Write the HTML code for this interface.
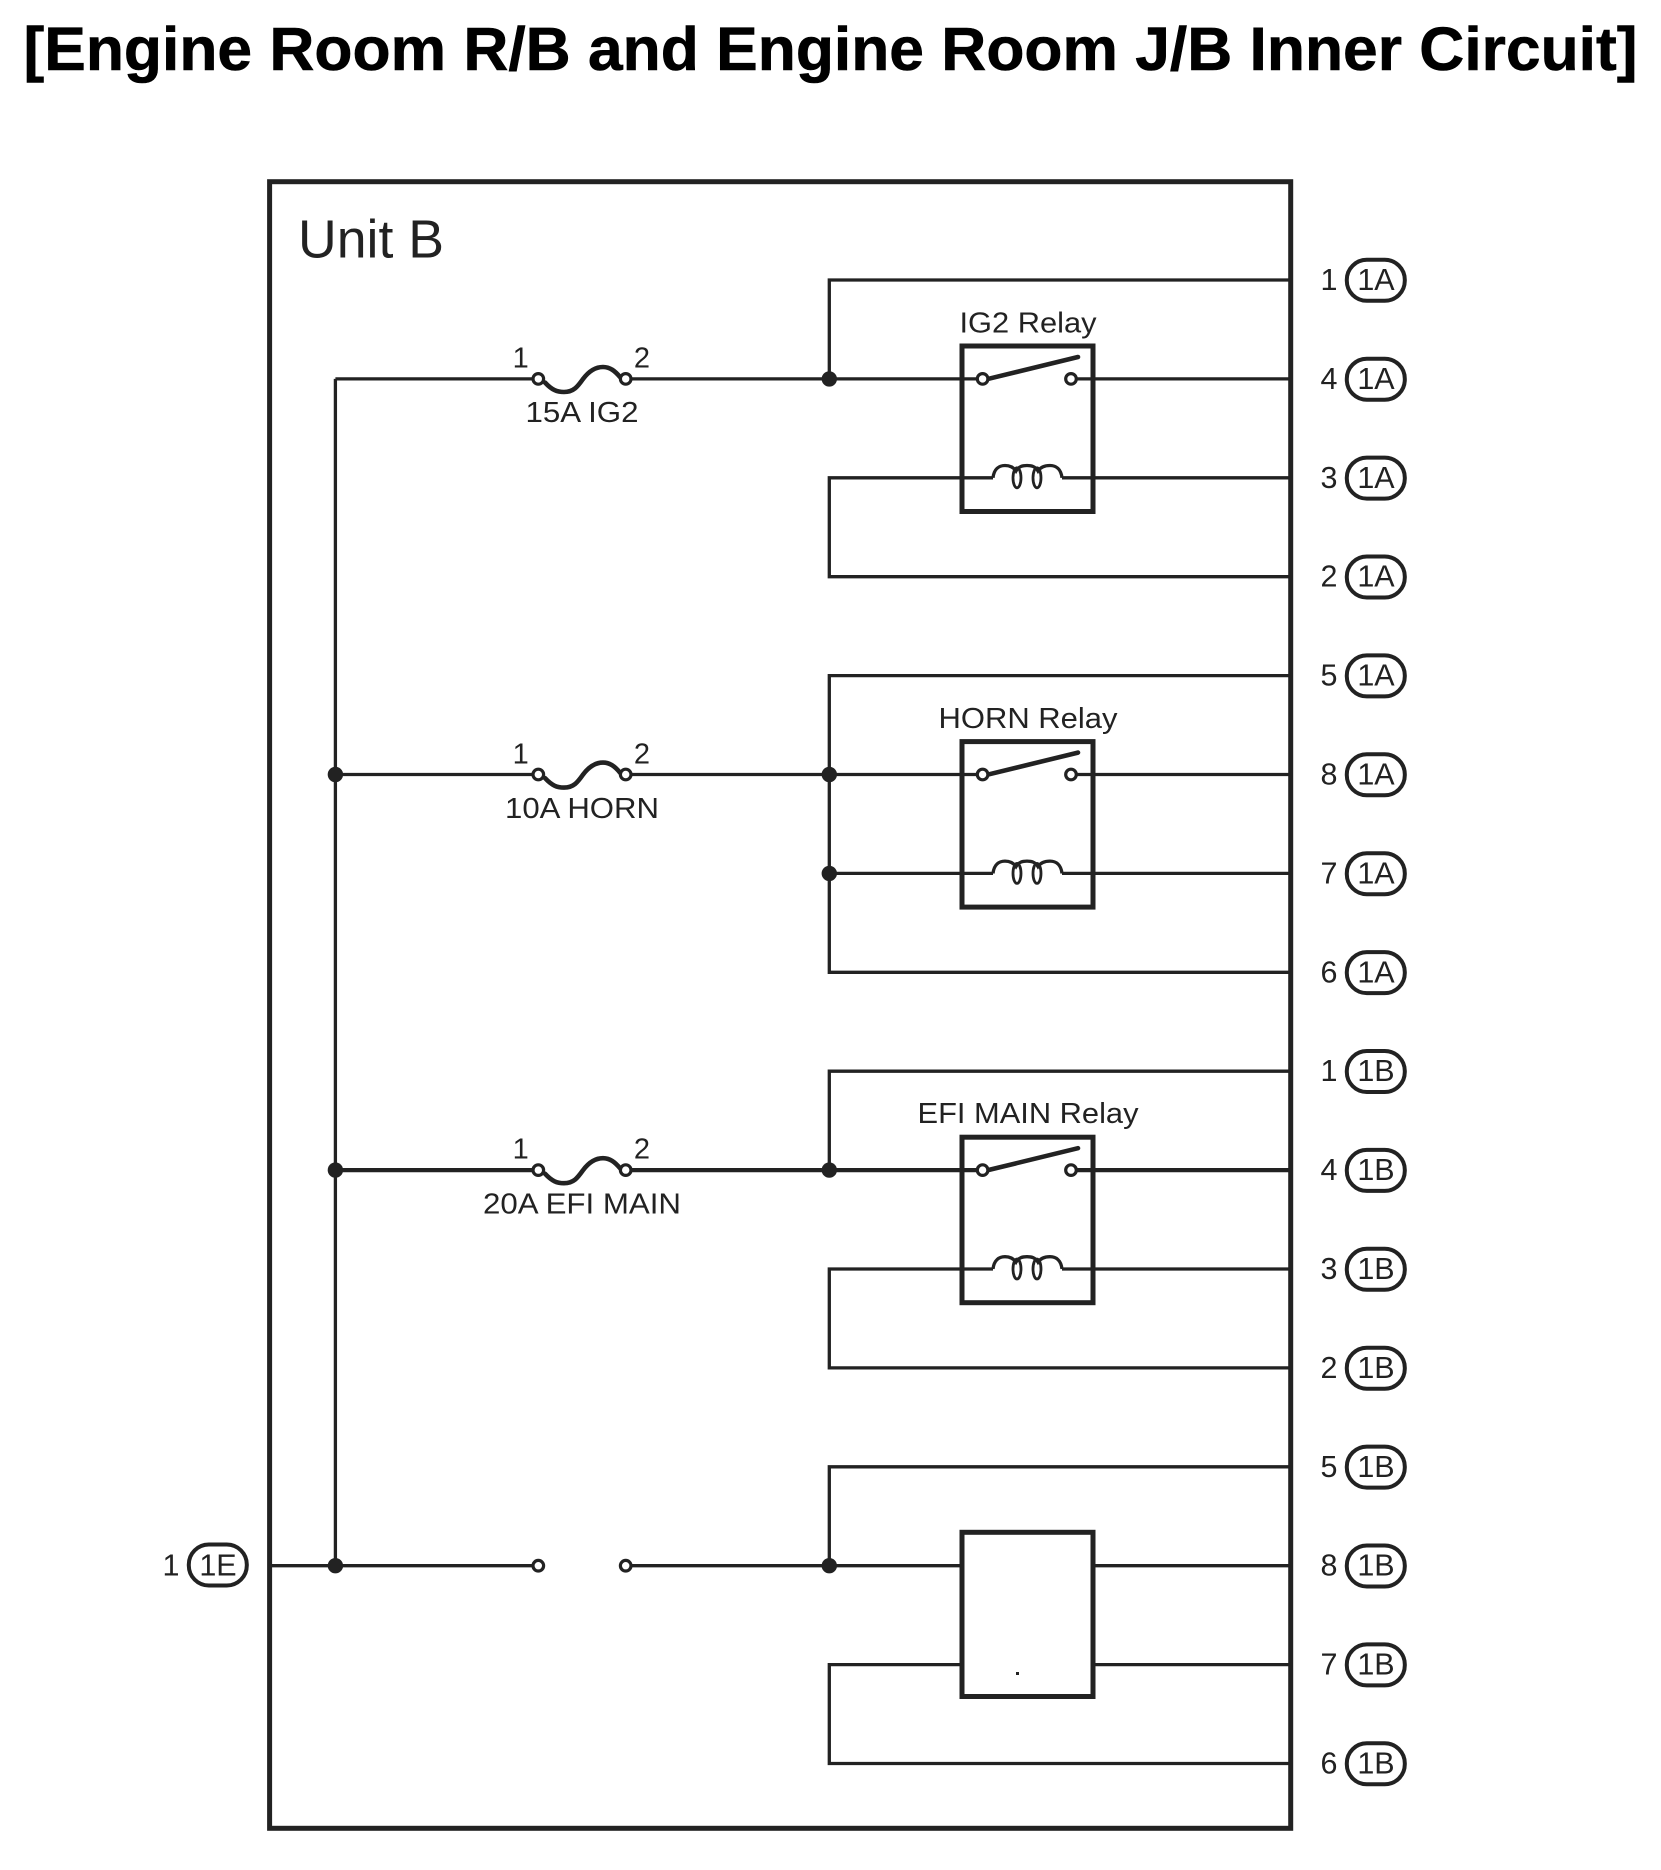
<!DOCTYPE html>
<html>
<head>
<meta charset="utf-8">
<style>
html,body{margin:0;padding:0;background:#fff;width:1661px;height:1870px;overflow:hidden}
svg{display:block}
text{font-family:"Liberation Sans",sans-serif;fill:#222}
.w{fill:none;stroke:#222;stroke-width:3.3}
.h{fill:none;stroke:#222;stroke-width:4.2}
.b{fill:none;stroke:#222;stroke-width:5}
.f{fill:none;stroke:#222;stroke-width:4.6;stroke-linecap:round}
.t{fill:#fff;stroke:#222;stroke-width:3.2}
.j{fill:#222}
.p{fill:#fff;stroke:#222;stroke-width:4}
.n{font-size:30.5px;text-anchor:middle}
.l{font-size:29px;text-anchor:middle}
.q{font-size:29px;text-anchor:middle}
</style>
</head>
<body>
<svg width="1661" height="1870" viewBox="0 0 1661 1870" xmlns="http://www.w3.org/2000/svg">
<text x="23.5" y="70" font-size="61" font-weight="700" textLength="1614" lengthAdjust="spacingAndGlyphs" style="fill:#000;stroke:#000;stroke-width:.6">[Engine Room R/B and Engine Room J/B Inner Circuit]</text>

<rect class="b" x="269.6" y="181.7" width="1021.1" height="1646.6"/>
<text x="298" y="257.7" font-size="54" textLength="146" lengthAdjust="spacingAndGlyphs">Unit B</text>

<!-- bus -->
<path class="w" d="M335.4 378.9V1565.7"/>

<!-- IG2 -->
<path class="w" d="M1290 280H829.3V378.9"/>
<path class="w" d="M335.4 378.9H538M626 378.9H982.6M1071 378.9H1290"/>
<path class="w" d="M993 477.8H829.3V576.7H1290M1062 477.8H1290"/>
<circle class="j" cx="829.3" cy="378.9" r="7.7"/>
<rect class="b" x="962" y="346" width="131" height="165.5"/>
<path class="f" d="M545 382.5C552 390 557 392 564 392C574 392 578 386 583 379C589 371 596 367 603 367C610 367 615 371 620 377"/>
<circle class="t" cx="538.3" cy="378.9" r="5.3"/>
<circle class="t" cx="625.7" cy="378.9" r="5.3"/>
<path class="h" d="M989 378.7L1078 357" style="stroke-linecap:round;stroke-width:4.6"/>
<circle class="t" cx="982.6" cy="378.9" r="5.3"/>
<circle class="t" cx="1071" cy="378.9" r="5.3"/>
<path class="w" d="M993 477.8C994 469 999 465.5 1005 465.5C1011 465.5 1014 468 1016 471C1019 466 1023 465.5 1027 465.5C1031 465.5 1035 466 1038 471C1040 468 1044 465.5 1050 465.5C1056 465.5 1061 469 1062 477.8"/>
<ellipse class="w" cx="1017" cy="477.8" rx="4" ry="10" style="stroke-width:2.8"/>
<ellipse class="w" cx="1037" cy="477.8" rx="4" ry="10" style="stroke-width:2.8"/>
<text class="l" x="1028" y="332.5" textLength="137" lengthAdjust="spacingAndGlyphs">IG2 Relay</text>
<text class="q" x="520.7" y="367.5">1</text>
<text class="q" x="642" y="367.5">2</text>
<text class="l" x="582" y="422" textLength="113" lengthAdjust="spacingAndGlyphs">15A IG2</text>

<!-- HORN -->
<path class="w" d="M1290 675.6H829.3V972.3H1290"/>
<path class="w" d="M335.4 774.5H538M626 774.5H982.6M1071 774.5H1290"/>
<path class="w" d="M829.3 873.4H993M1062 873.4H1290"/>
<circle class="j" cx="335.4" cy="774.5" r="7.7"/>
<circle class="j" cx="829.3" cy="774.5" r="7.7"/>
<circle class="j" cx="829.3" cy="873.4" r="7.7"/>
<rect class="b" x="962" y="741.6" width="131" height="165.5"/>
<path class="f" d="M545 778.1C552 785.6 557 787.6 564 787.6C574 787.6 578 781.6 583 774.6C589 766.6 596 762.6 603 762.6C610 762.6 615 766.6 620 772.6"/>
<circle class="t" cx="538.3" cy="774.5" r="5.3"/>
<circle class="t" cx="625.7" cy="774.5" r="5.3"/>
<path class="h" d="M989 774.3L1078 752.6" style="stroke-linecap:round;stroke-width:4.6"/>
<circle class="t" cx="982.6" cy="774.5" r="5.3"/>
<circle class="t" cx="1071" cy="774.5" r="5.3"/>
<path class="w" d="M993 873.4C994 864.6 999 861.1 1005 861.1C1011 861.1 1014 863.6 1016 866.6C1019 861.6 1023 861.1 1027 861.1C1031 861.1 1035 861.6 1038 866.6C1040 863.6 1044 861.1 1050 861.1C1056 861.1 1061 864.6 1062 873.4"/>
<ellipse class="w" cx="1017" cy="873.4" rx="4" ry="10" style="stroke-width:2.8"/>
<ellipse class="w" cx="1037" cy="873.4" rx="4" ry="10" style="stroke-width:2.8"/>
<text class="l" x="1028" y="728" textLength="179" lengthAdjust="spacingAndGlyphs">HORN Relay</text>
<text class="q" x="520.7" y="763.5">1</text>
<text class="q" x="642" y="763.5">2</text>
<text class="l" x="582" y="818" textLength="154" lengthAdjust="spacingAndGlyphs">10A HORN</text>

<!-- EFI MAIN -->
<path class="w" d="M1290 1071.2H829.3V1170.1"/>
<path class="h" d="M335.4 1170.1H538M626 1170.1H982.6M1071 1170.1H1290"/>
<path class="w" d="M993 1269H829.3V1367.9H1290M1062 1269H1290"/>
<circle class="j" cx="335.4" cy="1170.1" r="7.7"/>
<circle class="j" cx="829.3" cy="1170.1" r="7.7"/>
<rect class="b" x="962" y="1137.2" width="131" height="165.5"/>
<path class="f" d="M545 1173.7C552 1181.2 557 1183.2 564 1183.2C574 1183.2 578 1177.2 583 1170.2C589 1162.2 596 1158.2 603 1158.2C610 1158.2 615 1162.2 620 1168.2"/>
<circle class="t" cx="538.3" cy="1170.1" r="5.3"/>
<circle class="t" cx="625.7" cy="1170.1" r="5.3"/>
<path class="h" d="M989 1169.9L1078 1148.2" style="stroke-linecap:round;stroke-width:4.6"/>
<circle class="t" cx="982.6" cy="1170.1" r="5.3"/>
<circle class="t" cx="1071" cy="1170.1" r="5.3"/>
<path class="w" d="M993 1269C994 1260.2 999 1256.7 1005 1256.7C1011 1256.7 1014 1259.2 1016 1262.2C1019 1257.2 1023 1256.7 1027 1256.7C1031 1256.7 1035 1257.2 1038 1262.2C1040 1259.2 1044 1256.7 1050 1256.7C1056 1256.7 1061 1260.2 1062 1269"/>
<ellipse class="w" cx="1017" cy="1269" rx="4" ry="10" style="stroke-width:2.8"/>
<ellipse class="w" cx="1037" cy="1269" rx="4" ry="10" style="stroke-width:2.8"/>
<text class="l" x="1028" y="1123" textLength="221" lengthAdjust="spacingAndGlyphs">EFI MAIN Relay</text>
<text class="q" x="520.7" y="1158.6">1</text>
<text class="q" x="642" y="1158.6">2</text>
<text class="l" x="582" y="1213.6" textLength="198" lengthAdjust="spacingAndGlyphs">20A EFI MAIN</text>

<!-- bottom -->
<path class="w" d="M1290 1466.8H829.3V1565.7"/>
<path class="w" d="M269.6 1565.7H538M626 1565.7H962.5M1092 1565.7H1290"/>
<path class="w" d="M962.5 1664.6H829.3V1763.5H1290M1092 1664.6H1290"/>
<circle class="j" cx="335.4" cy="1565.7" r="7.7"/>
<circle class="j" cx="829.3" cy="1565.7" r="7.7"/>
<rect class="b" x="962" y="1532.3" width="131" height="164.2"/>
<rect class="j" x="1016" y="1672" width="3" height="3"/>
<circle class="t" cx="538.3" cy="1565.7" r="5.3"/>
<circle class="t" cx="625.7" cy="1565.7" r="5.3"/>

<!-- connector tags -->
<rect class="p" x="1346.8" y="259.8" width="58" height="41" rx="20"/><text class="n" x="1329" y="290">1</text><text class="n" x="1376" y="290">1A</text>
<rect class="p" x="1346.8" y="358.7" width="58" height="41" rx="20"/><text class="n" x="1329" y="388.9">4</text><text class="n" x="1376" y="388.9">1A</text>
<rect class="p" x="1346.8" y="457.6" width="58" height="41" rx="20"/><text class="n" x="1329" y="487.8">3</text><text class="n" x="1376" y="487.8">1A</text>
<rect class="p" x="1346.8" y="556.5" width="58" height="41" rx="20"/><text class="n" x="1329" y="586.7">2</text><text class="n" x="1376" y="586.7">1A</text>
<rect class="p" x="1346.8" y="655.4" width="58" height="41" rx="20"/><text class="n" x="1329" y="685.6">5</text><text class="n" x="1376" y="685.6">1A</text>
<rect class="p" x="1346.8" y="754.3" width="58" height="41" rx="20"/><text class="n" x="1329" y="784.5">8</text><text class="n" x="1376" y="784.5">1A</text>
<rect class="p" x="1346.8" y="853.2" width="58" height="41" rx="20"/><text class="n" x="1329" y="883.4">7</text><text class="n" x="1376" y="883.4">1A</text>
<rect class="p" x="1346.8" y="952.1" width="58" height="41" rx="20"/><text class="n" x="1329" y="982.3">6</text><text class="n" x="1376" y="982.3">1A</text>
<rect class="p" x="1346.8" y="1051" width="58" height="41" rx="20"/><text class="n" x="1329" y="1081.2">1</text><text class="n" x="1376" y="1081.2">1B</text>
<rect class="p" x="1346.8" y="1149.9" width="58" height="41" rx="20"/><text class="n" x="1329" y="1180.1">4</text><text class="n" x="1376" y="1180.1">1B</text>
<rect class="p" x="1346.8" y="1248.8" width="58" height="41" rx="20"/><text class="n" x="1329" y="1279">3</text><text class="n" x="1376" y="1279">1B</text>
<rect class="p" x="1346.8" y="1347.7" width="58" height="41" rx="20"/><text class="n" x="1329" y="1377.9">2</text><text class="n" x="1376" y="1377.9">1B</text>
<rect class="p" x="1346.8" y="1446.6" width="58" height="41" rx="20"/><text class="n" x="1329" y="1476.8">5</text><text class="n" x="1376" y="1476.8">1B</text>
<rect class="p" x="1346.8" y="1545.5" width="58" height="41" rx="20"/><text class="n" x="1329" y="1575.7">8</text><text class="n" x="1376" y="1575.7">1B</text>
<rect class="p" x="1346.8" y="1644.4" width="58" height="41" rx="20"/><text class="n" x="1329" y="1674.6">7</text><text class="n" x="1376" y="1674.6">1B</text>
<rect class="p" x="1346.8" y="1743.3" width="58" height="41" rx="20"/><text class="n" x="1329" y="1773.5">6</text><text class="n" x="1376" y="1773.5">1B</text>
<rect class="p" x="188.8" y="1544.5" width="58" height="41" rx="20"/><text class="n" x="171" y="1575.7">1</text><text class="n" x="218" y="1575.7">1E</text>
</svg>
</body>
</html>
